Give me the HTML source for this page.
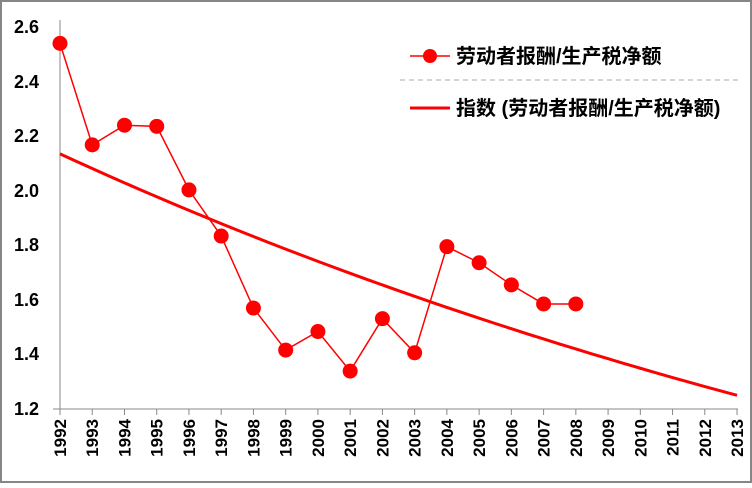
<!DOCTYPE html>
<html><head><meta charset="utf-8"><style>
body{margin:0;background:#fff}
svg text{font-family:"Liberation Sans","Noto Sans CJK SC",sans-serif;font-weight:bold;fill:#000}
</style></head><body>
<svg width="752" height="483" xmlns="http://www.w3.org/2000/svg">
<rect x="1" y="1" width="750" height="481" fill="#fff" stroke="#868686" stroke-width="2"/>
<g font-size="18" text-anchor="end">
<text x="39" y="415">1.2</text>
<text x="39" y="360">1.4</text>
<text x="39" y="306">1.6</text>
<text x="39" y="251">1.8</text>
<text x="39" y="197">2.0</text>
<text x="39" y="142">2.2</text>
<text x="39" y="88">2.4</text>
<text x="39" y="33">2.6</text>
</g>
<line x1="60" y1="20" x2="60" y2="409" stroke="#888" stroke-width="1"/>
<line x1="53" y1="409" x2="738" y2="409" stroke="#888" stroke-width="1"/>
<line x1="400" y1="80" x2="738" y2="80" stroke="#aaa" stroke-width="1" stroke-dasharray="5,4"/>
<g id="ticks" stroke="#888"></g>
<g id="labels" font-size="17"></g>
<polyline id="tr" fill="none" stroke="#f00" stroke-width="3"/>
<polyline id="pl" fill="none" stroke="#f00" stroke-width="1.5"/>
<g id="dots" fill="#f00"></g>
<line x1="410" y1="56" x2="450" y2="56" stroke="#f00" stroke-width="1.5"/>
<circle cx="430" cy="56" r="7" fill="#f00"/>
<text x="456" y="63" font-size="20">劳动者报酬/生产税净额</text>
<line x1="410" y1="108" x2="450" y2="108" stroke="#f00" stroke-width="3"/>
<text x="456" y="115" font-size="20">指数 (劳动者报酬/生产税净额)</text>
</svg>
<script>
var d=[2.54,2.168,2.24,2.236,2.003,1.834,1.57,1.416,1.484,1.339,1.531,1.406,1.795,1.736,1.655,1.585,1.585];
function X(i){return 60+i*32.24}
function Y(v){return 409-(v-1.2)/0.2*54.57}
var ns="http://www.w3.org/2000/svg",pts=[],tp=[];
var b=Math.log(1.25/2.135)/21;
for(var k=0;k<=42;k++){var i=k/2;tp.push(X(i)+','+Y(2.135*Math.exp(b*i)));}
document.getElementById('tr').setAttribute('points',tp.join(' '));
var dots=document.getElementById('dots'),t=document.getElementById('ticks'),lb=document.getElementById('labels');
d.forEach(function(v,i){pts.push(X(i)+','+Y(v));var c=document.createElementNS(ns,'circle');c.setAttribute('cx',X(i));c.setAttribute('cy',Y(v));c.setAttribute('r',7.5);dots.appendChild(c);});
document.getElementById('pl').setAttribute('points',pts.join(' '));
for(var i=0;i<22;i++){var x=X(i);var l=document.createElementNS(ns,'line');l.setAttribute('x1',x);l.setAttribute('x2',x);l.setAttribute('y1',409);l.setAttribute('y2',415);t.appendChild(l);
var tx=document.createElementNS(ns,'text');tx.setAttribute('transform','translate('+(x+6)+',419) rotate(-90)');tx.setAttribute('text-anchor','end');tx.textContent=1992+i;lb.appendChild(tx);}
</script>
</body></html>
